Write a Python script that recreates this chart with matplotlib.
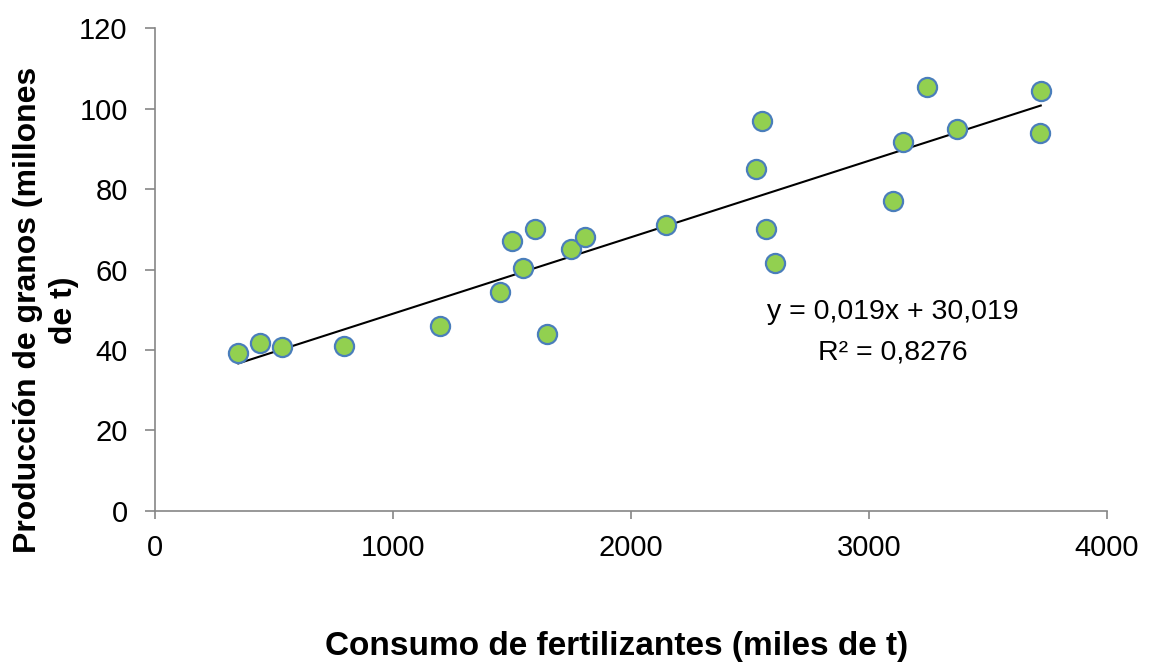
import numpy as np
import matplotlib.pyplot as plt

plt.rcParams['font.family'] = ['Liberation Sans', 'DejaVu Sans']

# Consumo de fertilizantes (miles de t) vs producción de granos (millones de t)
consumo = [350, 440, 535, 796, 1196, 1448, 1499, 1545, 1596, 1646, 1747, 1806,
           2147, 2526, 2552, 2568, 2606, 3103, 3141, 3242, 3368, 3718, 3722]
produccion = [39.3, 41.7, 40.7, 41.0, 46.0, 54.4, 67.0, 60.4, 70.0, 44.0, 65.0, 68.0,
              71.0, 85.0, 97.0, 70.0, 61.6, 77.0, 91.7, 105.3, 95.0, 94.0, 104.3]

# línea de tendencia según la ecuación mostrada
pendiente = 0.019
intercepto = 30.019
ecuacion = "y = 0,019x + 30,019"
r2_texto = "R² = 0,8276"

fig = plt.figure(figsize=(11.51, 6.62), dpi=100)
ax = fig.add_axes([0.1347, 0.2281, 0.827, 0.7296])

xs = np.array([min(consumo), max(consumo)])
ax.plot(xs, pendiente * xs + intercepto, color='black', lw=1.5, zorder=2)
ax.scatter(consumo, produccion, s=190, c='#92D050', edgecolors='#4A7EBB',
           linewidths=1.6, zorder=3)

ax.set_xlim(0, 4000)
ax.set_ylim(0, 120)
ax.set_xticks([0, 1000, 2000, 3000, 4000])
ax.set_yticks(range(0, 121, 20))

for s in ['top', 'right']:
    ax.spines[s].set_visible(False)
for s in ['left', 'bottom']:
    ax.spines[s].set_color('#868686')
    ax.spines[s].set_linewidth(1.2)
ax.tick_params(axis='both', colors='#868686', labelcolor='black',
               labelsize=21, width=1.2, direction='out')
ax.tick_params(axis='x', length=5.8, pad=11)
ax.tick_params(axis='y', length=7.2, pad=12.5)

ax.text(3100, 49.5, ecuacion, fontsize=20.5, ha='center', va='center')
ax.text(3100, 39.5, r2_texto, fontsize=20.5, ha='center', va='center')

fig.text(0.536, 0.024, "Consumo de fertilizantes (miles de t)", fontsize=24,
         fontweight='bold', ha='center', va='center')
fig.text(0.040, 0.532, "Producción de granos (millones\nde t)", fontsize=23,
         fontweight='bold', ha='center', va='center', rotation=90,
         multialignment='center', linespacing=1.3)

fig.savefig('out.png', dpi=100)
